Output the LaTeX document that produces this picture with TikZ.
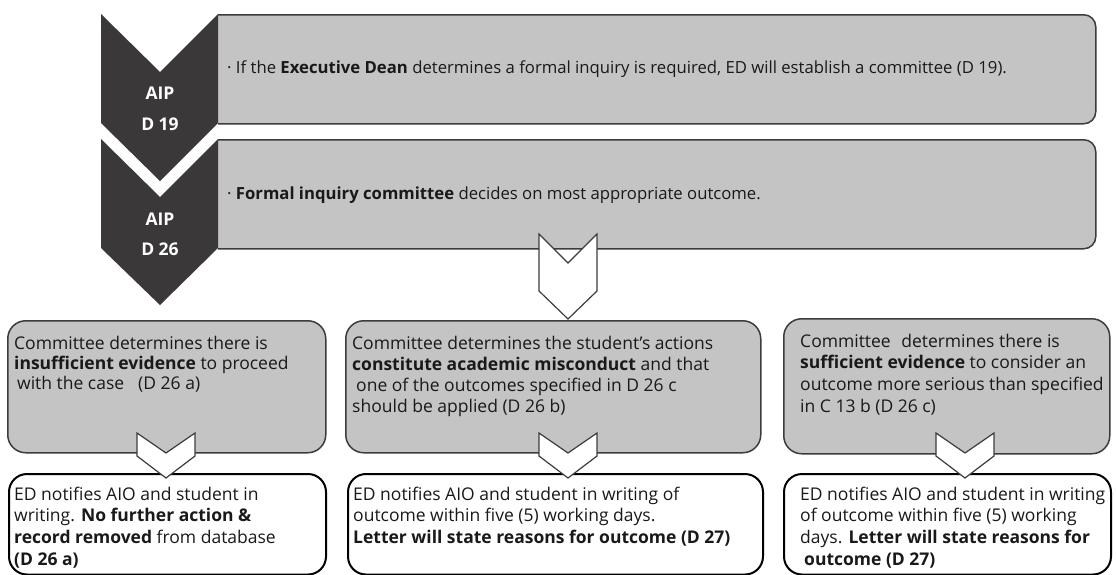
\documentclass[tikz,border=0pt]{standalone}
\usepackage{fontspec}
\setmainfont{Open Sans}
\definecolor{boxgray}{RGB}{196,196,196}
\definecolor{darkchev}{RGB}{58,56,56}
\definecolor{edgegray}{RGB}{60,60,60}
\definecolor{ink}{RGB}{25,25,25}
\newcommand{\topstrut}{\rule{0pt}{14pt}}
\tikzset{
  txt/.style={font=\fontsize{17.5pt}{#1}\selectfont, inner sep=0pt, align=left, anchor=north west, text=ink},
  txt/.default={20pt},
  linetxt/.style={font=\fontsize{16.7pt}{20pt}\selectfont, inner sep=0pt, anchor=base west, text=ink},
  topbox/.style={draw=edgegray, fill=boxgray, line width=1.5pt, rounded corners=12pt, anchor=north west, inner sep=0pt},
  graybox/.style={draw=edgegray, fill=boxgray, line width=1.5pt, rounded corners=18pt, anchor=north west, inner sep=0pt},
  whitebox/.style={draw=black, fill=white, line width=2pt, rounded corners=18pt, anchor=north west, inner sep=0pt},
  bigchev/.style={fill=darkchev},
  flowchev/.style={draw=edgegray, fill=white, line width=1.2pt, line join=miter},
  chevtxt/.style={font=\fontsize{17.5pt}{20pt}\selectfont\bfseries, text=white, anchor=base, inner sep=0pt},
}
\begin{document}
\begin{tikzpicture}[x=1pt, y=-1pt]
\useasboundingbox (0,0) rectangle (1116,574);
\fill[white] (0,0) rectangle (1116,574);

% top boxes (left side hidden by chevrons)
\begin{scope}
  \clip (218,0) rectangle (1116,300);
  \node[topbox, minimum width=895pt, minimum height=109pt] (b1) at (200,14) {};
  \node[topbox, minimum width=895pt, minimum height=109pt] (b2) at (200,139) {};
\end{scope}

% big dark chevrons
\fill[bigchev] (101,14) -- (160,72) -- (218,14) -- (218,123) -- (160,181) -- (101,123) -- cycle;
\fill[bigchev] (101,139) -- (160,197) -- (218,139) -- (218,248) -- (160,305) -- (101,248) -- cycle;
\node[chevtxt] (c1a) at (160,99) {AIP};
\node[chevtxt] (c1b) at (160,130) {D 19};
\node[chevtxt] (c2a) at (160,225) {AIP};
\node[chevtxt] (c2b) at (160,255) {D 26};

% top texts
\node[linetxt] (t1) at (227,73.5) {· If the \textbf{Executive Dean} determines a formal inquiry is required, ED will establish a committee (D 19).};
\node[linetxt] (t2) at (227,199.5) {· \textbf{Formal inquiry committee} decides on most appropriate outcome.};

% bottom boxes
\node[graybox, minimum width=318pt, minimum height=132pt] (g1) at (7,320) {};
\node[graybox, minimum width=415pt, minimum height=132pt] (g2) at (345,320) {};
\node[graybox, minimum width=326pt, minimum height=135pt] (g3) at (783,318) {};
\node[whitebox, minimum width=317pt, minimum height=100.5pt] (w1) at (8,473) {};
\node[whitebox, minimum width=415pt, minimum height=100.5pt] (w2) at (347,473) {};
\node[whitebox, minimum width=327pt, minimum height=100.5pt] (w3) at (783,473) {};

% flow chevrons
\draw[flowchev] (539,234) -- (568,263) -- (597,234) -- (597,291) -- (568,319) -- (539,291) -- cycle;
\foreach \c in {166,568,965}{
  \draw[flowchev] (\c-29,433) -- (\c,453) -- (\c+29,433) -- (\c+29,456) -- (\c,478) -- (\c-29,456) -- cycle;
}

% bottom texts
\node[txt={20pt}] (gt1) at (14,335) {\topstrut Committee determines there is\\
\textbf{insufficient evidence} to proceed\\
\hspace*{3pt}with the case\hspace{0.8em}(D 26 a)};
\node[txt={21pt}] (gt2) at (352,335) {\topstrut Committee determines the student’s actions\\
\textbf{constitute academic misconduct} and that\\
\hspace*{4pt}one of the outcomes specified in D 26 c\\
should be applied (D 26 b)};
\node[txt={21.6pt}] (gt3) at (800,333) {\topstrut Committee\hspace{0.6em}determines there is\\
\textbf{sufficient evidence} to consider an\\
outcome more serious than specified\\
in C 13 b (D 26 c)};

\node[txt={21.7pt}] (wt1) at (14,486) {\topstrut ED notifies AIO and student in\\
writing. \textbf{No further action \&}\\
\textbf{record removed} from database\\
\textbf{(D 26 a)}};
\node[txt={21.7pt}] (wt2) at (353,486) {\topstrut ED notifies AIO and student in writing of\\
outcome within five (5) working days.\\
\textbf{Letter will state reasons for outcome (D 27)}};
\node[txt={21.7pt}] (wt3) at (800,486) {\topstrut ED notifies AIO and student in writing\\
of outcome within five (5) working\\
days. \textbf{Letter will state reasons for}\\
\hspace*{4pt}\textbf{outcome (D 27)}};
\end{tikzpicture}
\end{document}
